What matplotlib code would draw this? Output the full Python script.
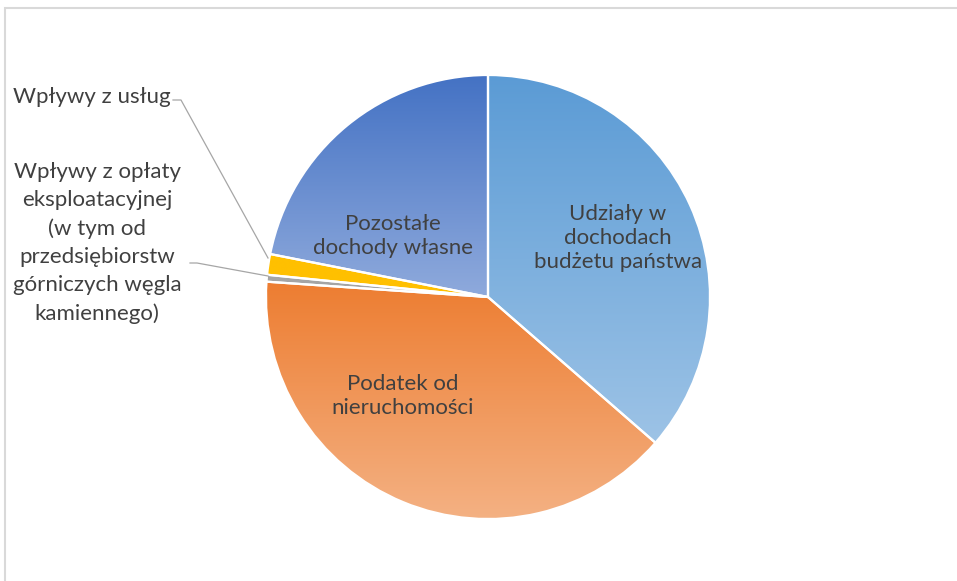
import numpy as np
import matplotlib
matplotlib.use("Agg")
import matplotlib.pyplot as plt
from matplotlib.colors import LinearSegmentedColormap
from matplotlib.patches import Rectangle

plt.rcParams['font.family'] = ['Lato', 'DejaVu Sans']

categories = [
    "Udziały w\ndochodach\nbudżetu państwa",
    "Podatek od\nnieruchomości",
    "Wpływy z opłaty\neksploatacyjnej\n(w tym od\nprzedsiębiorstw\ngórniczych węgla\nkamiennego)",
    "Wpływy z usług",
    "Pozostałe\ndochody własne",
]
values = [36.4, 39.7, 0.5, 1.5, 21.9]
top_colors = ["#5B9BD5", "#ED7D31", "#A5A5A5", "#FFC000", "#4472C4"]
bottom_colors = ["#9DC3E6", "#F4B183", "#A5A5A5", "#FFC000", "#8FAADC"]

W, H = 957, 581
fig = plt.figure(figsize=(W / 100, H / 100), dpi=100)
ax = fig.add_axes([0, 0, 1, 1])

cx, cy, R = 488, H - 297, 222
wedges, _ = ax.pie(values, startangle=90, counterclock=False, radius=R,
                   center=(cx, cy), wedgeprops=dict(edgecolor="white", linewidth=1.6))
ax.set_xlim(0, W)
ax.set_ylim(0, H)
ax.set_aspect("equal")
ax.axis("off")

grad = np.linspace(0, 1, 256).reshape(-1, 1)
for w, tc, bc in zip(wedges, top_colors, bottom_colors):
    ext = w.get_path().get_extents()
    cmap = LinearSegmentedColormap.from_list("g", [tc, bc])
    im = ax.imshow(grad, cmap=cmap, aspect="auto",
                   extent=(ext.x0, ext.x1, ext.y0, ext.y1), origin="upper", zorder=1)
    im.set_clip_path(w)
    w.set_facecolor("none")
    w.set_zorder(2)
ax.set_xlim(0, W)
ax.set_ylim(0, H)

tcol = "#404040"
fs = 16
ax.text(618, H - 238, categories[0], ha="center", va="center", fontsize=fs,
        color=tcol, linespacing=1.27, zorder=3)
ax.text(403, H - 396, categories[1], ha="center", va="center", fontsize=fs,
        color=tcol, linespacing=1.27, zorder=3)
ax.text(393, H - 236, categories[4], ha="center", va="center", fontsize=fs,
        color=tcol, linespacing=1.27, zorder=3)
ax.text(97, H - 243, categories[2], ha="center", va="center", fontsize=fs,
        color=tcol, linespacing=1.5, zorder=3)
ax.text(92, H - 97, categories[3], ha="center", va="center", fontsize=fs,
        color=tcol, zorder=3)

lc = "#a6a6a6"
ax.plot([173, 181, 268], [H - 100, H - 100, H - 258], color=lc, lw=0.9, zorder=3)
ax.plot([190, 197, 268], [H - 263, H - 263, H - 276], color=lc, lw=0.9, zorder=3)

fig.patches.append(Rectangle((5, -10), W + 20, H - 8 + 10, transform=None,
                             fill=False, edgecolor="#d9d9d9", linewidth=1.5))

fig.savefig("out.png", dpi=100, facecolor="white")
